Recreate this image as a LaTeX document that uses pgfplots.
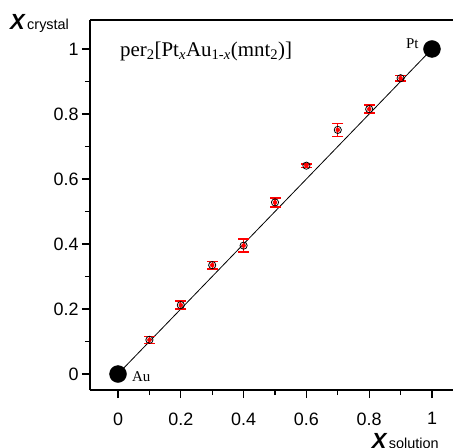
\documentclass[border=0pt]{standalone}
\usepackage{fontspec}
\setmainfont{Liberation Serif}
\setsansfont{Liberation Sans}
\usepackage{pgfplots}
\usepackage{pgfplotstable}
\pgfplotsset{compat=1.18}
\usetikzlibrary{calc}

% x_solution, x_crystal, error
\pgfplotstableread{
x   y     err
0.1 0.105 0.011
0.2 0.212 0.012
0.3 0.335 0.011
0.4 0.395 0.020
0.5 0.528 0.014
0.6 0.641 0.006
0.7 0.751 0.020
0.8 0.815 0.012
0.9 0.910 0.008
}\crystal

\begin{document}
\begin{tikzpicture}
\begin{axis}[
  name=ax,
  scale only axis, width=363bp, height=370bp,
  xmin=-0.0892, xmax=1.0669, ymin=-0.0492, ymax=1.0892,
  axis x line=box, axis y line*=left,
  axis line style={line width=1.3bp},
  xtick={0,0.2,...,1}, ytick={0,0.2,...,1},
  minor tick num=1,
  xtick pos=bottom, ytick pos=left,
  tick align=outside,
  major tick length=8bp, minor tick length=5bp,
  tick style={line width=1.2bp, black},
  /pgf/number format/assume math mode=true,
  tick label style={font=\sffamily\fontsize{18}{18}\selectfont},
  xticklabel style={yshift=-11bp},
  clip=false,
]
\addplot[black, line width=0.8bp, no marks] coordinates {(0,0)(1,1)};
% red error bars: vertical part
\addplot[red, only marks, mark=none,
  error bars/.cd, y dir=both, y explicit, error mark=none,
  error bar style={draw=red, line width=1.2bp}]
  table[x=x, y=y, y error=err]{\crystal};
% red caps
\addplot[red, only marks, mark=-, mark size=5.5bp, mark options={draw=red, line width=1.6bp}]
  table[x=x, y expr=\thisrow{y}+\thisrow{err}]{\crystal};
\addplot[red, only marks, mark=-, mark size=5.5bp, mark options={draw=red, line width=1.6bp}]
  table[x=x, y expr=\thisrow{y}-\thisrow{err}]{\crystal};
% open circles
\addplot[black, only marks, mark=o, mark size=3.6bp,
  mark options={draw=black, line width=0.8bp}]
  table[x=x, y=y]{\crystal};
\addplot[only marks, mark=*, mark size=8.5bp, black] coordinates {(0,0)(1,1)};

\node[anchor=base west, inner sep=0, font=\fontsize{21}{21}\selectfont]
  at (axis cs:0.006,0.976)
  {per\textsubscript{2}[Pt\textsubscript{\textit{x}}Au\textsubscript{1-\textit{x}}(mnt\textsubscript{2})]};
\node[anchor=base west, inner sep=0, font=\fontsize{15}{15}\selectfont]
  at (axis cs:0.044,-0.024) {Au};
\node[anchor=base west, inner sep=0, font=\fontsize{15}{15}\selectfont]
  at (axis cs:0.917,1.002) {Pt};
\node[anchor=base west, inner sep=0, font=\sffamily]
  at (axis cs:-0.344,1.0585)
  {\fontsize{22}{22}\selectfont\bfseries\itshape X\fontsize{14.5}{14.5}\selectfont\mdseries\upshape\,crystal};
\node[anchor=base west, inner sep=0, font=\sffamily]
  at (axis cs:0.808,-0.228)
  {\fontsize{22}{22}\selectfont\bfseries\itshape X\fontsize{14.5}{14.5}\selectfont\mdseries\upshape\,solution};
\end{axis}
\pgfresetboundingbox
\path[use as bounding box] ($(ax.south west)+(-90bp,-58bp)$) rectangle ($(ax.north east)+(0,20bp)$);
\end{tikzpicture}
\end{document}
